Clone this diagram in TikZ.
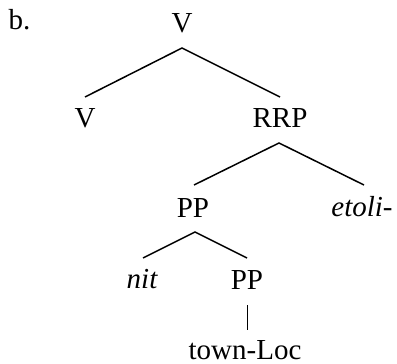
\documentclass[tikz,border=0pt]{standalone}
\usepackage{fontspec}
\setmainfont{Liberation Serif}
\begin{document}
\begin{tikzpicture}[x=1pt,y=-1pt,
  lbl/.style={anchor=base,inner sep=0pt,font=\fontsize{29}{30}\selectfont},
  br/.style={line width=1.5pt}]
\useasboundingbox (0,0) rectangle (397,364);
\node[lbl] (b) at (19.5,30) {b.};
\node[lbl] (v0) at (182,32) {V};
\node[lbl] (v1) at (85,127) {V};
\node[lbl] (rrp) at (280,127) {RRP};
\node[lbl] (pp1) at (193,217) {PP};
\node[lbl] (et) at (362,216) {\itshape etoli-};
\node[lbl] (nit) at (142,288) {\itshape nit};
\node[lbl] (pp2) at (247,289) {PP};
\node[lbl,text depth=0pt] (tl) at (245,359) {town-Loc};
\coordinate (a0) at (182,48);
\coordinate (l0) at (85,97);
\coordinate (r0) at (280,97);
\coordinate (a1) at (279,143);
\coordinate (l1) at (194,185);
\coordinate (r1) at (364,185);
\coordinate (a2) at (195,232);
\coordinate (l2) at (143,258);
\coordinate (r2) at (247,258);
\coordinate (t3) at (247.5,305);
\coordinate (b3) at (247.5,330);
\draw[br] (l0) -- (a0) -- (r0);
\draw[br] (l1) -- (a1) -- (r1);
\draw[br] (l2) -- (a2) -- (r2);
\draw[br] (t3) -- (b3);
\end{tikzpicture}
\end{document}
